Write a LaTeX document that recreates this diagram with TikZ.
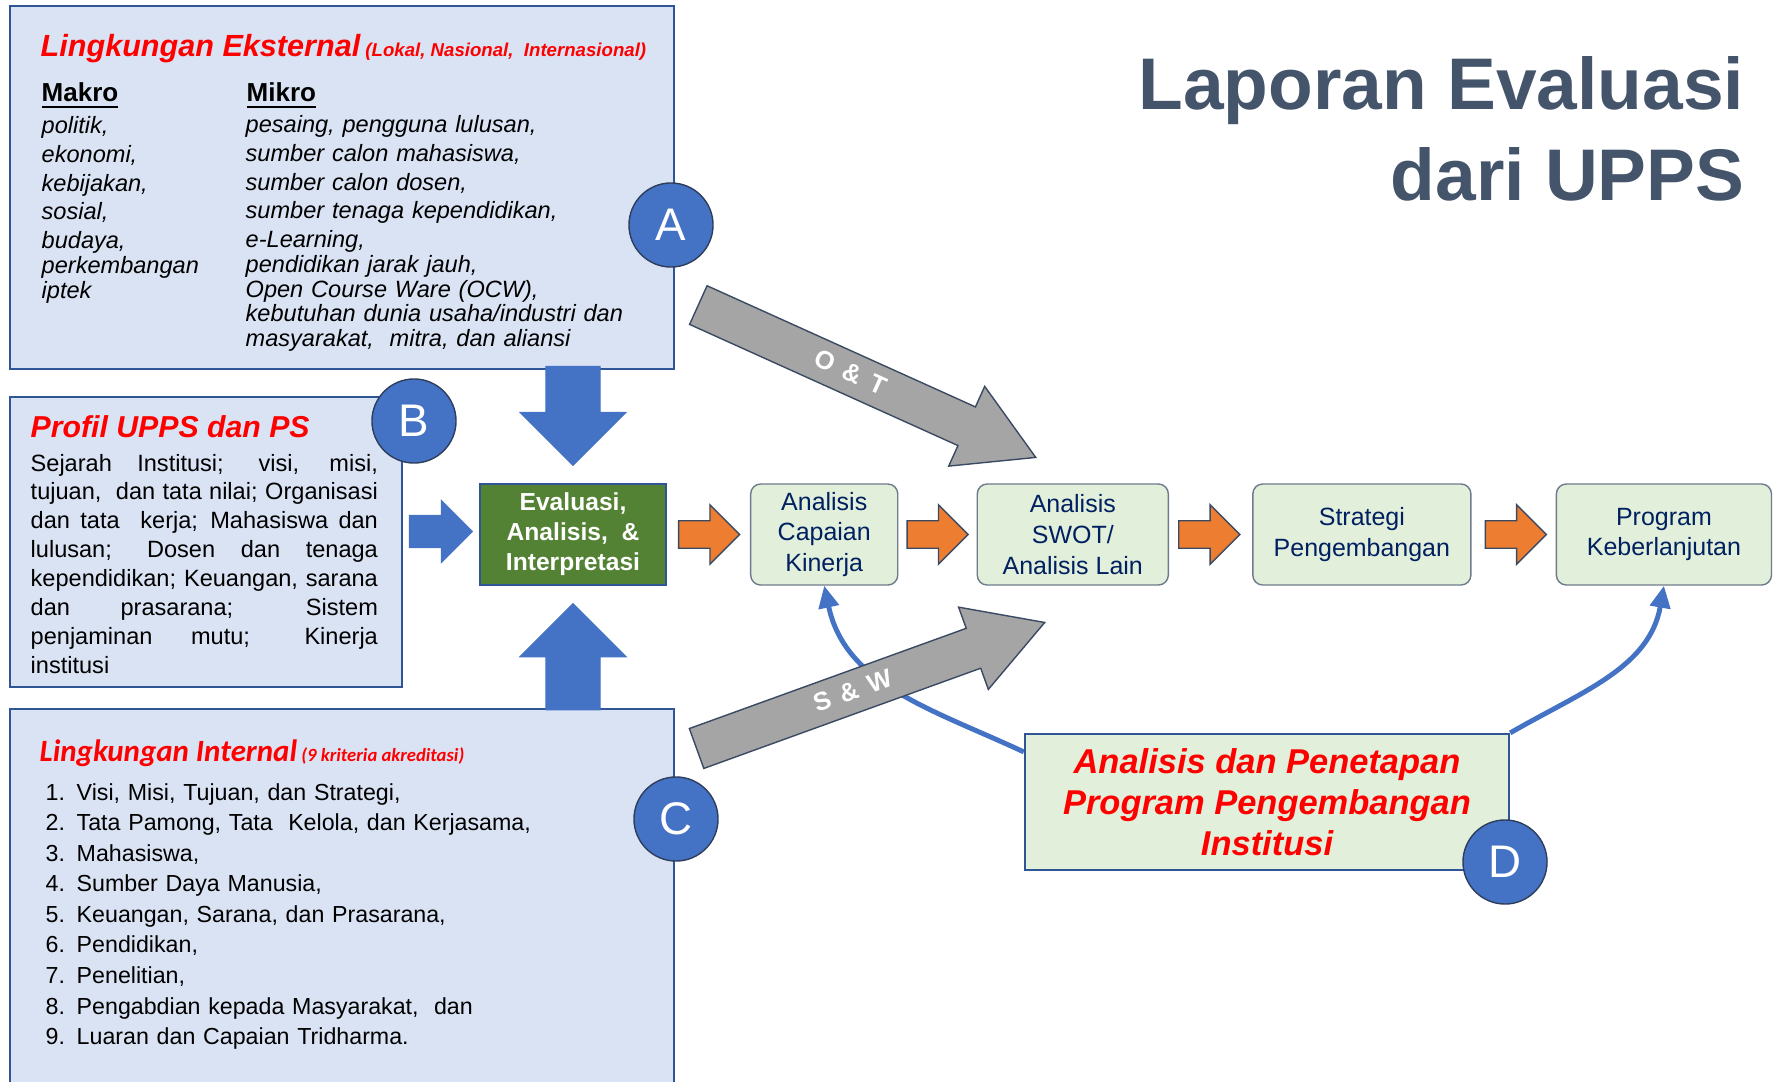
\documentclass[tikz,border=0pt]{standalone}
\usepackage{fontspec}
\setmainfont{Liberation Sans}
\newfontfamily\calibrifont{Carlito}
\newfontfamily\spacedfont[LetterSpace=15]{Liberation Sans}
\usetikzlibrary{shapes.arrows,arrows.meta,positioning,backgrounds}

\definecolor{panelfill}{HTML}{DAE3F3}
\definecolor{panelline}{HTML}{2F5597}
\definecolor{badgeblue}{HTML}{4472C4}
\definecolor{badgeline}{HTML}{2E3E5C}
\definecolor{coregreen}{HTML}{548235}
\definecolor{stagefill}{HTML}{E2EFDA}
\definecolor{stageline}{HTML}{6F7B8C}
\definecolor{stagetext}{HTML}{002060}
\definecolor{flowfill}{HTML}{ED7D31}
\definecolor{edgeline}{HTML}{3B4A63}
\definecolor{envgray}{HTML}{A5A5A5}
\definecolor{titleslate}{HTML}{44546A}

\newcommand{\numitem}[1]{\makebox[0.31cm][l]{#1.}}

\begin{document}
\begin{tikzpicture}[
  x=0.01cm, y=0.01cm,
  >={Triangle[length=0.22cm, width=0.2cm]},
  panel/.style={rectangle, draw=panelline, fill=panelfill, line width=0.45pt,
                anchor=north west, inner sep=0pt},
  badge/.style={circle, draw=badgeline, fill=badgeblue, line width=0.4pt,
                minimum size=0.84cm, inner sep=0pt, text=white, font=\fontsize{13}{13}\selectfont},
  core/.style={rectangle, draw=panelline, fill=coregreen, line width=0.5pt,
               minimum width=1.86cm, minimum height=1.01cm, align=center, inner sep=0pt,
               text=white, font=\bfseries\fontsize{7}{8.5}\selectfont},
  stage/.style={rectangle, rounded corners=0.1cm, draw=stageline, fill=stagefill, line width=0.4pt,
                minimum height=1.01cm, align=center, inner sep=0pt,
                text=stagetext, font=\fontsize{7.1}{8.8}\selectfont},
  plan/.style={rectangle, draw=panelline, fill=stagefill, line width=0.6pt,
               minimum width=4.84cm, minimum height=1.36cm, align=center, inner sep=0pt,
               text=red, font=\bfseries\itshape\fontsize{9.8}{11.7}\selectfont},
  flowarrow/.style={single arrow, draw=edgeline, fill=flowfill, line width=0.4pt,
                    inner xsep=0pt, inner ysep=0.13cm, single arrow head extend=0.16cm,
                    minimum height=0.61cm, anchor=tail},
  feedarrow/.style={single arrow, draw=badgeblue, fill=badgeblue, line width=0.3pt,
                    inner xsep=0pt, anchor=tip},
  envarrow/.style={single arrow, draw=edgeline, fill=envgray, line width=0.4pt,
                   inner xsep=0pt, inner ysep=0pt, text height=0.28cm, text depth=0.13cm,
                   single arrow head extend=0.225cm, single arrow tip angle=60,
                   minimum height=3.7cm, anchor=tip,
                   text=white, font=\spacedfont\bfseries\fontsize{7.3}{7.3}\selectfont},
  loopback/.style={->, line width=1.4pt, draw=badgeblue},
  redhead/.style={anchor=base west, inner sep=0pt, text=red,
                  font=\bfseries\itshape\fontsize{8.7}{10}\selectfont},
  bodytext/.style={anchor=base west, inner sep=0pt, align=left},
  headline/.style={anchor=base east, inner sep=0pt, text=titleslate,
                   font=\bfseries\fontsize{20.8}{25}\selectfont},
]
\useasboundingbox (0,0) rectangle (1779,-1082);
\clip (0,0) rectangle (1779,-1082);

% title
\node[headline] (title1) at (1745,-110) {Laporan Evaluasi};
\node[headline] (title2) at (1745,-200) {dari UPPS};

% the three input panels
\node[panel, minimum width=6.64cm, minimum height=3.63cm] (ext) at (9,-5) {};
\node[panel, minimum width=3.92cm, minimum height=2.90cm] (prof) at (9,-396) {};
\node[panel, minimum width=6.64cm, minimum height=4.0cm] (int) at (9,-708) {};

\node[redhead] (exttitle) at (40,-57)
  {Lingkungan Eksternal{\fontsize{5.3}{6}\selectfont\ (Lokal, Nasional,\ \ Internasional)}};
\node[bodytext, font=\bfseries\fontsize{7.4}{9}\selectfont] (makrohead) at (41,-102) {\underline{Makro}};
\node[bodytext, font=\bfseries\fontsize{7.4}{9}\selectfont] (mikrohead) at (246,-102) {\underline{Mikro}};
\node[bodytext, text width=2.0cm, font=\itshape\fontsize{6.7}{8.14}\selectfont] (makro) at (41,-134)
  {politik,\\ekonomi,\\kebijakan,\\sosial,\\budaya,\\[-1.1pt]perkembangan\\[-1.1pt]iptek};
\node[bodytext, text width=4.1cm, font=\itshape\fontsize{6.7}{8.14}\selectfont] (mikro) at (245,-133)
  {pesaing, pengguna lulusan,\\sumber calon mahasiswa,\\sumber calon dosen,\\
   sumber tenaga kependidikan,\\e-Learning,\\[-1.1pt]pendidikan jarak jauh,\\[-1.1pt]
   Open Course Ware (OCW),\\[-1.1pt]kebutuhan dunia usaha/industri dan\\[-1.2pt]
   masyarakat,\ \ mitra, dan aliansi};

\node[redhead, font=\bfseries\itshape\fontsize{8.6}{10}\selectfont] (proftitle) at (30,-437)
  {Profil UPPS dan PS};
\node[bodytext, text width=3.47cm, align=justify, font=\fontsize{6.7}{8.22}\selectfont] (profbody) at (30,-471)
  {Sejarah Institusi; visi, misi,\linebreak tujuan,\ \ dan tata nilai; Organisasi\linebreak
   dan tata\ \ kerja; Mahasiswa dan\linebreak lulusan; Dosen dan tenaga\linebreak
   kependidikan; Keuangan, sarana\linebreak dan prasarana; Sistem\linebreak
   penjaminan mutu; Kinerja\linebreak institusi};

\node[redhead, font=\calibrifont\bfseries\itshape\fontsize{8.8}{10}\selectfont] (inttitle) at (39,-761)
  {Lingkungan Internal{\fontsize{5.3}{6}\selectfont\ (9 kriteria akreditasi)}};
\node[bodytext, text width=5.7cm, font=\fontsize{6.6}{8.7}\selectfont] (intlist) at (45,-800)
  {\numitem{1}Visi, Misi, Tujuan, dan Strategi,\\
   \numitem{2}Tata Pamong, Tata\ \ Kelola, dan Kerjasama,\\
   \numitem{3}Mahasiswa,\\
   \numitem{4}Sumber Daya Manusia,\\
   \numitem{5}Keuangan, Sarana, dan Prasarana,\\
   \numitem{6}Pendidikan,\\
   \numitem{7}Penelitian,\\
   \numitem{8}Pengabdian kepada Masyarakat,\ \ dan\\
   \numitem{9}Luaran dan Capaian Tridharma.};

% process chain
\node[core] (eval) at (573,-534.5) {Evaluasi,\\Analisis,\ \ \&\\Interpretasi};
\node[stage, minimum width=1.47cm, right=0.83cm of eval] (capaian) {Analisis\\Capaian\\Kinerja};
\node[stage, minimum width=1.91cm, right=0.78cm of capaian] (swot) {Analisis\\SWOT/\\Analisis Lain};
\node[stage, minimum width=2.18cm, right=0.83cm of swot] (strategi) {Strategi\\Pengembangan};
\node[stage, minimum width=2.15cm, right=0.84cm of strategi] (program) {Program\\Keberlanjutan};

\node[flowarrow] (f1) at ([xshift=0.11cm]eval.east) {};
\node[flowarrow] (f2) at ([xshift=0.08cm]capaian.east) {};
\node[flowarrow] (f3) at ([xshift=0.09cm]swot.east) {};
\node[flowarrow] (f4) at ([xshift=0.13cm]strategi.east) {};

\node[feedarrow, rotate=-90, inner ysep=0.265cm, single arrow head extend=0.26cm, minimum height=0.99cm]
  (fromext) at ([yshift=0.17cm]eval.north) {};
\node[feedarrow, rotate=90, inner ysep=0.265cm, single arrow head extend=0.26cm, minimum height=1.06cm]
  (fromint) at ([yshift=-0.17cm]eval.south) {};
\node[feedarrow, inner ysep=0.155cm, single arrow head extend=0.15cm, minimum height=0.63cm]
  (fromprof) at ([xshift=-0.06cm, yshift=0.03cm]eval.west) {};

\node[plan] (plan) at (1267,-802) {Analisis dan Penetapan\\Program Pengembangan\\Institusi};

\begin{scope}[on background layer]
\draw[loopback] ([yshift=-0.19cm]plan.north west) to[out=155, in=-78] (capaian.south);
\draw[loopback] (plan.north east) to[out=30, in=-100] (program.south);
\end{scope}

\node[envarrow, rotate=-24.3] (optreat) at (1037,-458) {O \& T};
\node[envarrow, rotate=19.9] (strweak) at (1046,-622) {S \& W};

% letters
\node[badge] (ba) at (671,-225) {A};
\node[badge] (bb) at (414,-421) {B};
\node[badge] (bc) at (676,-819) {C};
\node[badge] (bd) at (1505,-862) {D};

\end{tikzpicture}
\end{document}
